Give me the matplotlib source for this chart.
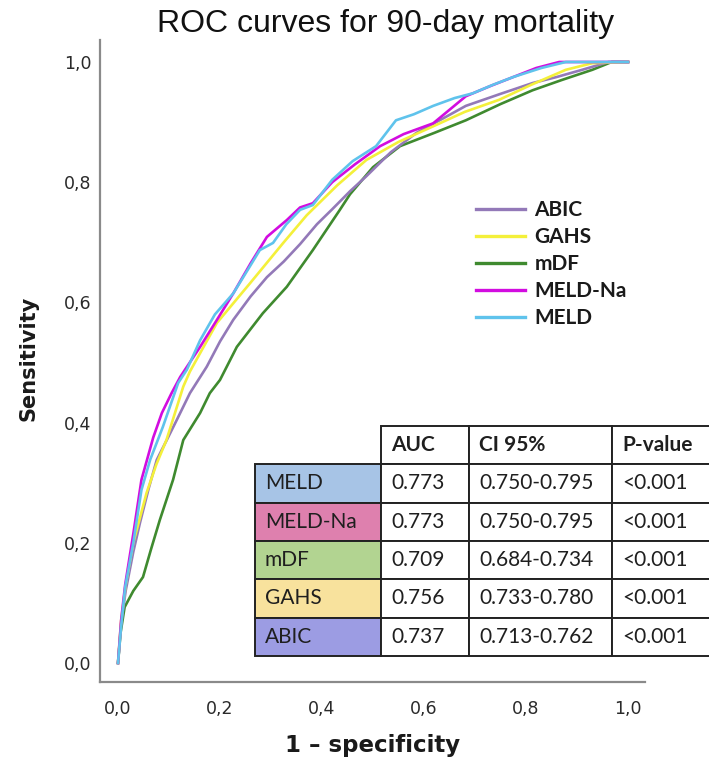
import matplotlib
matplotlib.use("Agg")
import matplotlib.pyplot as plt
from matplotlib.table import Table
from matplotlib.lines import Line2D

# ROC curve points (1 - specificity, sensitivity)
meld_x = [0, 0.006, 0.014, 0.03, 0.046, 0.063, 0.073, 0.088, 0.118, 0.135, 0.161, 0.19, 0.226, 0.255,
          0.278, 0.304, 0.33, 0.357, 0.382, 0.42, 0.46, 0.506, 0.545, 0.58, 0.618, 0.66, 0.696, 0.735,
          0.775, 0.83, 0.878, 0.94, 1.0]
meld_y = [0, 0.06, 0.126, 0.2, 0.288, 0.338, 0.36, 0.393, 0.466, 0.488, 0.537, 0.58, 0.615, 0.655,
          0.687, 0.699, 0.73, 0.754, 0.762, 0.804, 0.835, 0.86, 0.903, 0.913, 0.927, 0.94, 0.948, 0.962,
          0.975, 0.99, 1.0, 1.0, 1.0]

meldna_x = [0, 0.006, 0.014, 0.03, 0.046, 0.069, 0.086, 0.105, 0.122, 0.161, 0.194, 0.226, 0.26, 0.292,
            0.331, 0.357, 0.382, 0.42, 0.465, 0.514, 0.56, 0.618, 0.682, 0.73, 0.775, 0.82, 0.865, 0.93, 1.0]
meldna_y = [0, 0.07, 0.13, 0.215, 0.305, 0.375, 0.416, 0.449, 0.476, 0.526, 0.571, 0.615, 0.665, 0.709,
            0.737, 0.758, 0.765, 0.80, 0.83, 0.86, 0.88, 0.898, 0.943, 0.96, 0.975, 0.99, 1.0, 1.0, 1.0]

gahs_x = [0, 0.006, 0.015, 0.03, 0.056, 0.075, 0.095, 0.128, 0.141, 0.194, 0.259, 0.324, 0.37, 0.43,
          0.487, 0.55, 0.618, 0.68, 0.747, 0.81, 0.878, 0.93, 1.0]
gahs_y = [0, 0.07, 0.13, 0.2, 0.283, 0.33, 0.371, 0.46, 0.485, 0.566, 0.632, 0.699, 0.745, 0.795,
          0.837, 0.867, 0.893, 0.917, 0.937, 0.962, 0.987, 0.998, 1.0]

abic_x = [0, 0.006, 0.015, 0.03, 0.043, 0.06, 0.076, 0.095, 0.115, 0.141, 0.174, 0.2, 0.226, 0.26, 0.292,
          0.325, 0.357, 0.39, 0.42, 0.455, 0.487, 0.535, 0.585, 0.635, 0.682, 0.75, 0.813, 0.86, 0.91,
          0.962, 1.0]
abic_y = [0, 0.065, 0.12, 0.185, 0.233, 0.29, 0.338, 0.37, 0.404, 0.449, 0.493, 0.535, 0.571, 0.61, 0.642,
          0.668, 0.697, 0.73, 0.755, 0.785, 0.81, 0.85, 0.882, 0.905, 0.927, 0.947, 0.965, 0.975, 0.987,
          1.0, 1.0]

mdf_x = [0, 0.005, 0.013, 0.03, 0.049, 0.065, 0.082, 0.108, 0.128, 0.161, 0.18, 0.2, 0.233, 0.284, 0.331,
         0.382, 0.435, 0.455, 0.5, 0.553, 0.62, 0.682, 0.75, 0.813, 0.87, 0.93, 0.968, 1.0]
mdf_y = [0, 0.05, 0.093, 0.12, 0.143, 0.19, 0.238, 0.305, 0.371, 0.416, 0.449, 0.471, 0.526, 0.582, 0.626,
         0.687, 0.754, 0.78, 0.825, 0.86, 0.882, 0.903, 0.93, 0.953, 0.97, 0.987, 1.0, 1.0]

# table contents
row_labels = ["MELD", "MELD-Na", "mDF", "GAHS", "ABIC"]
col_labels = ["AUC", "CI 95%", "P-value"]
auc = ["0.773", "0.773", "0.709", "0.756", "0.737"]
ci95 = ["0.750-0.795", "0.750-0.795", "0.684-0.734", "0.733-0.780", "0.713-0.762"]
pvals = ["<0.001", "<0.001", "<0.001", "<0.001", "<0.001"]
row_colors = ["#a7c4e6", "#de80ae", "#b2d491", "#f8e29d", "#9c9ce3"]

legend_order = ["ABIC", "GAHS", "mDF", "MELD-Na", "MELD"]
line_colors = {"ABIC": "#9379b8", "GAHS": "#f4f03a", "mDF": "#3f8a2f",
               "MELD-Na": "#d20ce0", "MELD": "#5fc3ec"}

fig = plt.figure(figsize=(7.09, 7.58), dpi=100)
W, H = 709, 758
ax = fig.add_axes([100 / W, (H - 682) / H, 545 / W, 642 / H])

curves = {"mDF": (mdf_x, mdf_y), "ABIC": (abic_x, abic_y), "GAHS": (gahs_x, gahs_y),
          "MELD-Na": (meldna_x, meldna_y), "MELD": (meld_x, meld_y)}
for name, (xs, ys) in curves.items():
    ax.plot(xs, ys, color=line_colors[name], lw=1.9, solid_joinstyle="round")

ax.set_xlim(-0.0353, 1.0333)
ax.set_ylim(-0.0316, 1.0366)
ticks = [0, 0.2, 0.4, 0.6, 0.8, 1.0]
ax.set_xticks(ticks)
ax.set_yticks(ticks)
ax.set_xticklabels([f"{t:.1f}".replace(".", ",") for t in ticks])
ax.set_yticklabels([f"{t:.1f}".replace(".", ",") for t in ticks])
ax.tick_params(length=0, labelsize=12.5, labelcolor="#2a2a2a")
ax.tick_params(axis="x", pad=13)
ax.tick_params(axis="y", pad=6)
for s in ["top", "right"]:
    ax.spines[s].set_visible(False)
for s in ["left", "bottom"]:
    ax.spines[s].set_color("#8a8a8a")
    ax.spines[s].set_linewidth(1.6)

ax.set_xlabel("1 \u2013 specificity", fontfamily="DejaVu Sans", fontweight="bold", fontsize=16.5,
              color="#1a1a1a")
ax.set_ylabel("Sensitivity", fontfamily="DejaVu Sans", fontweight="bold", fontsize=15,
              color="#1a1a1a")
ax.xaxis.set_label_coords((373 - 100) / 545, -(734 - 682) / 642)
ax.yaxis.set_label_coords(-(100 - 38) / 545, (682 - 358) / 642)

fig.text(386 / W, 1 - 24 / H, "ROC curves for 90-day mortality", ha="center", va="center",
         fontfamily="Liberation Sans", fontsize=23, color="#111111")

handles = [Line2D([], [], color=line_colors[n], lw=2.4) for n in legend_order]
leg = ax.legend(handles, legend_order, loc="upper left", bbox_to_anchor=(476 / W, 1 - 200 / H),
                bbox_transform=fig.transFigure, frameon=False, handlelength=2.35,
                handletextpad=0.45, labelspacing=0.34, borderpad=0, borderaxespad=0,
                prop={"family": "Lato", "weight": "bold", "size": 15})
for t in leg.get_texts():
    t.set_color("#1a1a1a")

# table drawn in its own axes, running past the right edge like the original
col_px = [126, 88, 143, 110]
tab_left, tab_top = 255, 426
row_px = 38.3
tax = fig.add_axes([tab_left / W, (H - tab_top - 6 * row_px) / H, sum(col_px) / W, 6 * row_px / H])
tax.set_axis_off()
tab = Table(tax, bbox=[0, 0, 1, 1])
total = sum(col_px)
widths = [c / total for c in col_px]
h = 1 / 6
body = [auc, ci95, pvals]
for r in range(6):
    for c in range(4):
        if r == 0 and c == 0:
            txt, fc = "", "white"
        elif r == 0:
            txt, fc = col_labels[c - 1], "white"
        elif c == 0:
            txt, fc = row_labels[r - 1], row_colors[r - 1]
        else:
            txt, fc = body[c - 1][r - 1], "white"
        cell = tab.add_cell(r, c, width=widths[c], height=h, text=txt, loc="left", facecolor=fc,
                            edgecolor="#222222")
        cell.PAD = 10 / col_px[c]
        cell.set_linewidth(1.4)
        t = cell.get_text()
        t.set_fontfamily("Lato")
        t.set_fontsize(15)
        t.set_color("#1f1f1f")
        if r == 0:
            t.set_fontweight("bold")
        if r == 0 and c == 0:
            cell.visible_edges = ""
tab.auto_set_font_size(False)
tax.add_table(tab)

fig.savefig("out.png", dpi=100)
